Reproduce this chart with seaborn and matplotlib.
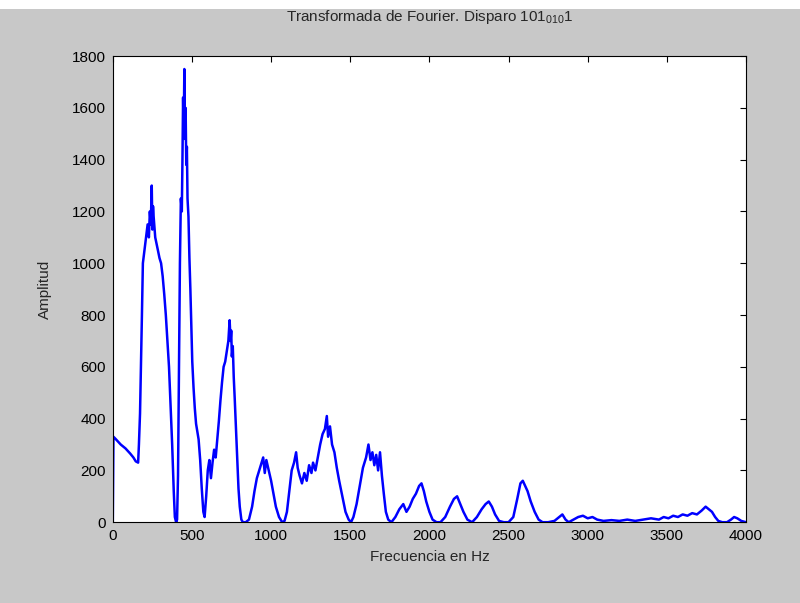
import seaborn as sns
import matplotlib.pyplot as plt
import matplotlib.patches as mpatches
import pandas as pd

freq = [0, 4, 20, 50, 80, 110, 130, 145, 160, 165,
        172, 178, 184, 190, 200, 210, 220, 228, 234, 240,
        246, 250, 254, 258, 262, 268, 275, 285, 295, 305,
        315, 325, 335, 345, 355, 365, 375, 385, 392, 400,
        406, 412, 418, 424, 430, 436, 440, 444, 448, 452,
        456, 460, 464, 468, 472, 478, 484, 490, 496, 502,
        510, 518, 526, 534, 542, 552, 562, 572, 580, 590,
        600, 610, 620, 630, 640, 650, 660, 670, 680, 690,
        700, 710, 720, 730, 738, 744, 748, 752, 758, 764,
        770, 778, 786, 794, 802, 812, 822, 840, 860, 880,
        895, 910, 925, 940, 950, 960, 970, 985, 1000, 1015,
        1030, 1050, 1070, 1085, 1100, 1115, 1130, 1145, 1158, 1168,
        1180, 1195, 1210, 1225, 1240, 1255, 1265, 1280, 1295, 1310,
        1325, 1340, 1352, 1360, 1372, 1385, 1400, 1415, 1430, 1450,
        1470, 1490, 1505, 1520, 1540, 1560, 1580, 1600, 1615, 1628,
        1640, 1652, 1664, 1676, 1688, 1700, 1712, 1725, 1740, 1760,
        1785, 1810, 1835, 1855, 1875, 1895, 1915, 1935, 1950, 1965,
        1980, 2000, 2020, 2045, 2070, 2100, 2130, 2155, 2175, 2195,
        2215, 2240, 2270, 2300, 2330, 2355, 2375, 2395, 2415, 2440,
        2470, 2500, 2530, 2555, 2575, 2590, 2605, 2620, 2640, 2665,
        2690, 2715, 2750, 2790, 2820, 2840, 2860, 2880, 2910, 2940,
        2970, 3000, 3030, 3060, 3100, 3150, 3200, 3250, 3300, 3350,
        3400, 3450, 3480, 3510, 3540, 3570, 3600, 3630, 3660, 3690,
        3720, 3745, 3765, 3785, 3805, 3825, 3850, 3880, 3905, 3925,
        3945, 3970, 4000]
amplitud = [0, 330, 320, 300, 285, 265, 250, 235, 230, 300,
            420, 600, 800, 1000, 1050, 1100, 1150, 1100, 1200, 1150,
            1300, 1130, 1220, 1180, 1150, 1100, 1080, 1050, 1020, 1000,
            950, 880, 800, 700, 600, 450, 300, 120, 20, 0,
            10, 180, 600, 1000, 1250, 1200, 1400, 1640, 1500, 1750,
            1480, 1600, 1380, 1450, 1250, 1180, 1020, 900, 760, 620,
            520, 440, 380, 350, 320, 240, 130, 40, 20, 100,
            200, 240, 170, 230, 280, 250, 320, 390, 470, 540,
            600, 620, 660, 700, 780, 700, 740, 640, 680, 560,
            480, 360, 240, 130, 60, 10, 0, 0, 10, 60,
            120, 170, 200, 230, 250, 190, 240, 200, 160, 110,
            60, 20, 0, 5, 40, 120, 200, 230, 270, 210,
            180, 150, 190, 160, 220, 190, 230, 200, 250, 300,
            340, 360, 410, 330, 370, 300, 270, 210, 160, 100,
            40, 10, 0, 20, 70, 140, 210, 250, 300, 240,
            270, 220, 260, 200, 270, 180, 110, 40, 10, 0,
            20, 50, 70, 40, 60, 90, 110, 140, 150, 120,
            80, 40, 10, 0, 0, 20, 60, 90, 100, 70,
            40, 10, 0, 20, 50, 70, 80, 60, 30, 5,
            0, 0, 20, 90, 150, 160, 140, 120, 80, 40,
            10, 0, 0, 5, 20, 30, 10, 0, 10, 20,
            25, 15, 20, 10, 5, 8, 5, 10, 5, 10,
            15, 10, 20, 15, 25, 20, 30, 25, 35, 30,
            45, 60, 50, 40, 20, 5, 0, 0, 10, 20,
            15, 5, 0]

xticks = [0, 500, 1000, 1500, 2000, 2500, 3000, 3500, 4000]
yticks = [0, 200, 400, 600, 800, 1000, 1200, 1400, 1600, 1800]

df = pd.DataFrame({"Frecuencia": freq, "Amplitud": amplitud})

sns.set_style("white")
plt.rcParams['font.family'] = ['Liberation Sans', 'DejaVu Sans']
plt.rcParams['mathtext.fontset'] = 'custom'
plt.rcParams['mathtext.rm'] = 'Liberation Sans'

fig = plt.figure(figsize=(8, 6.03), dpi=100, facecolor='#c8c8c8')
# franja blanca arriba
fig.patches.append(mpatches.Rectangle((0, 1 - 9 / 603), 1, 9 / 603,
                                      transform=fig.transFigure,
                                      facecolor='white', edgecolor='none'))
ax = fig.add_axes([0.141, 0.134, 0.7915, 0.773])
ax.set_facecolor('white')

sns.lineplot(data=df, x="Frecuencia", y="Amplitud", ax=ax, color='blue',
             linewidth=1.8, estimator=None, sort=False)

ax.set_xlim(0, 4000)
ax.set_ylim(0, 1800)
ax.set_xticks(xticks)
ax.set_yticks(yticks)
ax.tick_params(direction='in', length=4, width=0.8, top=True, right=True,
               labelsize=11, colors='black', pad=5)
for s in ax.spines.values():
    s.set_visible(True)
    s.set_color('black')
    s.set_linewidth(0.8)

ax.set_xlabel('Frecuencia en Hz', fontsize=11, labelpad=5)
ax.set_ylabel('Amplitud', fontsize=11, labelpad=14)
ax.set_title(r'Transformada de Fourier. Disparo 101$_{\mathregular{010}}$1',
             fontsize=11, pad=25)

fig.savefig('out.png', dpi=100, facecolor=fig.get_facecolor())
